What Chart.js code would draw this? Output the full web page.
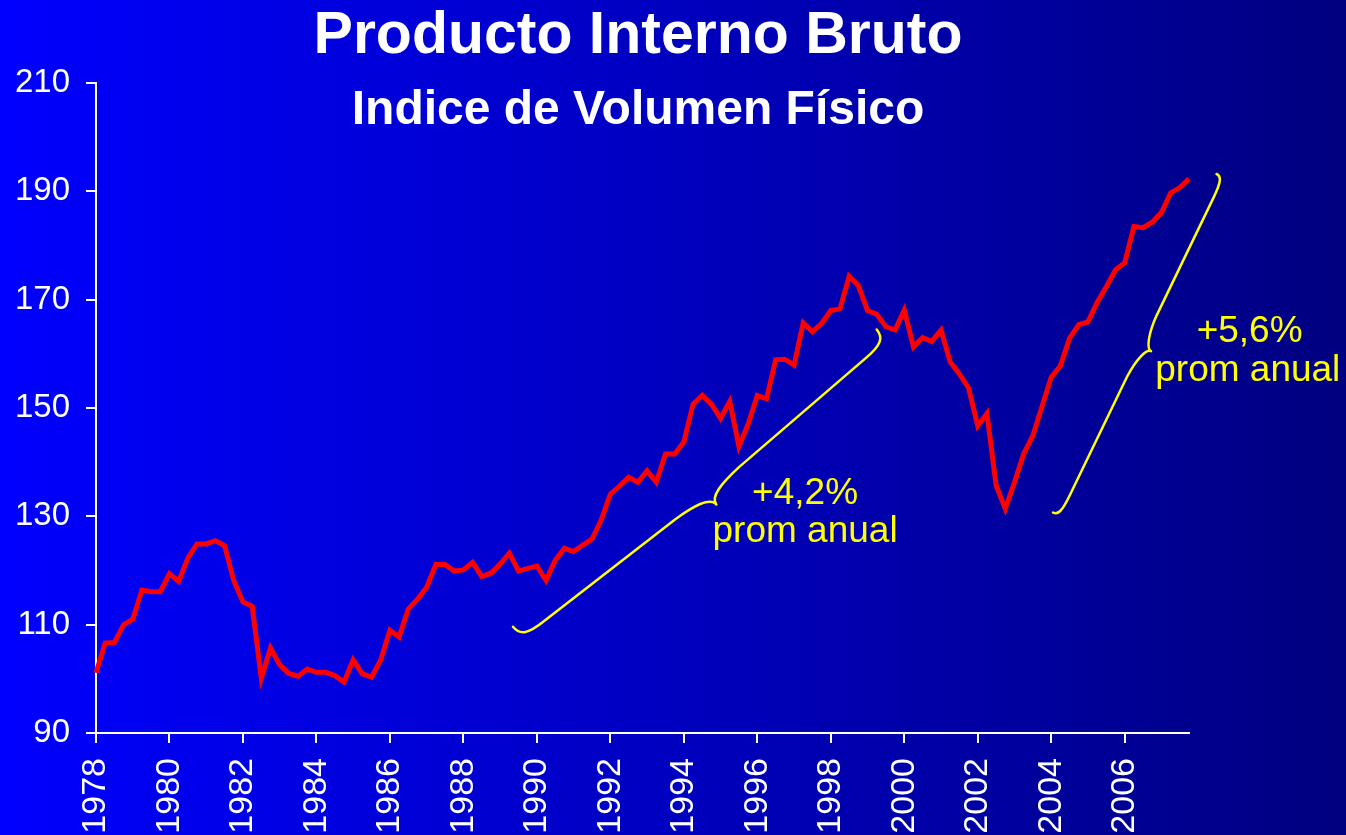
<!DOCTYPE html>
<html>
<head>
<meta charset="utf-8">
<script src="https://cdn.jsdelivr.net/npm/chart.js@4/dist/chart.umd.min.js"></script>
<style>
html,body{margin:0;padding:0;width:1346px;height:835px;overflow:hidden;background:linear-gradient(to right,#0000ff,#000080);}
#wrap{width:1346px;height:835px;position:relative;}
canvas{display:block;}
</style>
</head>
<body>
<div id="wrap"><canvas id="c" width="1346" height="835"></canvas></div>
<script>
// ---------- Data (quarterly, 1978-T1 .. 2007-T4) ----------
const firstYear = 1978;
const pib = [
  101.1, 106.6, 106.7, 110.0, 111.0, 116.4, 116.1, 116.1,
  119.4, 118.0, 122.3, 124.9, 124.9, 125.5, 124.6, 118.1,
  114.2, 113.4, 100.1, 105.7, 102.6, 101.0, 100.5, 101.8,
  101.2, 101.2, 100.6,  99.4, 103.5, 100.9, 100.3, 103.5,
  109.0, 107.7, 112.9, 114.7, 116.9, 121.1, 121.1, 119.9,
  120.1, 121.5, 118.9, 119.5, 121.2, 123.2, 119.9, 120.4,
  120.8, 118.2, 121.9, 124.1, 123.5, 124.7, 125.8, 129.3,
  134.1, 135.6, 137.2, 136.3, 138.4, 136.3, 141.5, 141.5,
  143.7, 150.7, 152.3, 150.7, 148.1, 151.2, 142.9, 147.0,
  152.3, 151.7, 158.9, 159.0, 157.9, 165.7, 164.1, 165.6,
  168.0, 168.3, 174.3, 172.6, 168.0, 167.3, 165.0, 164.4,
  168.1, 161.3, 163.0, 162.3, 164.4, 158.5, 156.3, 153.7,
  146.7, 149.0, 135.7, 131.4, 136.3, 141.5, 144.9, 150.3,
  155.7, 157.8, 162.9, 165.4, 165.9, 169.5, 172.4, 175.5,
  176.8, 183.5, 183.3, 184.3, 186.1, 189.7, 190.7, 192.3
];
const quarters = pib.map((_, i) => (firstYear + Math.floor(i / 4)) + '-T' + (i % 4 + 1));
const yTicks = [90, 110, 130, 150, 170, 190, 210];

const titleText = 'Producto Interno Bruto';
const subtitleText = 'Indice de Volumen Físico';

// annotation anchors in data space: [category index, value]
const braceFrom = [[45.4, 109.6], [104.2, 130.7]];
const braceTo   = [[85.0, 164.5], [122.0, 193.2]];
const noteTexts = ['+4,2%', 'prom anual', '+5,6%', 'prom anual'];
const noteAt    = [[77.2, 132.3], [77.2, 125.3], [125.6, 162.1], [125.4, 155.0]];

// ---------- Styles ----------
const FONT = "'Liberation Sans', Arial, Helvetica, sans-serif";
const braceWidth = [34, 18];
const braceArm = [[0.45, 0.57], [0.42, 0.42]];

function drawBrace(ctx, x1, y1, x2, y2, w, a1, a2) {
  const dx = x2 - x1, dy = y2 - y1, L = Math.hypot(dx, dy);
  const cx = dx / L, cy = dy / L;
  const P = (u, v) => [x1 + cx * u * L - cy * v * w, y1 + cy * u * L + cx * v * w];
  ctx.beginPath();
  ctx.moveTo(...P(0, 0));
  ctx.bezierCurveTo(...P(0, 0.3), ...P(0.012, a1), ...P(0.06, a1));
  ctx.lineTo(...P(0.41, a2));
  ctx.bezierCurveTo(...P(0.465, a2 + 0.04), ...P(0.5, 0.72), ...P(0.5, 1));
  ctx.bezierCurveTo(...P(0.5, 0.72), ...P(0.535, a2 + 0.04), ...P(0.59, a2));
  ctx.lineTo(...P(0.94, a1));
  ctx.bezierCurveTo(...P(0.988, a1), ...P(1, 0.3), ...P(1, 0));
  ctx.stroke();
}

const decor = {
  id: 'decor',
  beforeDraw(chart) {
    const ctx = chart.ctx;
    const g = ctx.createLinearGradient(0, 0, chart.width, 0);
    g.addColorStop(0, '#0000ff');
    g.addColorStop(1, '#000080');
    ctx.save();
    ctx.fillStyle = g;
    ctx.fillRect(0, 0, chart.width, chart.height);
    ctx.restore();
  },
  afterDraw(chart) {
    const ctx = chart.ctx;
    const xs = chart.scales.x, ys = chart.scales.y;
    ctx.save();
    // titles
    ctx.fillStyle = '#ffffff';
    ctx.textAlign = 'center';
    ctx.textBaseline = 'alphabetic';
    ctx.font = 'bold 59px ' + FONT;
    ctx.fillText(titleText, 638, 53);
    ctx.font = 'bold 48px ' + FONT;
    ctx.fillText(subtitleText, 638, 124);
    // braces
    ctx.strokeStyle = '#ffff00';
    ctx.lineWidth = 2.5;
    ctx.lineCap = 'round';
    ctx.lineJoin = 'round';
    for (let k = 0; k < braceFrom.length; k++) {
      const x1 = xs.getPixelForValue(braceFrom[k][0]), y1 = ys.getPixelForValue(braceFrom[k][1]);
      const x2 = xs.getPixelForValue(braceTo[k][0]), y2 = ys.getPixelForValue(braceTo[k][1]);
      drawBrace(ctx, x1, y1, x2, y2, braceWidth[k], braceArm[k][0], braceArm[k][1]);
    }
    // notes
    ctx.fillStyle = '#ffff00';
    ctx.font = '37px ' + FONT;
    for (let k = 0; k < noteTexts.length; k++) {
      ctx.fillText(noteTexts[k], xs.getPixelForValue(noteAt[k][0]), ys.getPixelForValue(noteAt[k][1]));
    }
    ctx.restore();
  }
};

new Chart(document.getElementById('c'), {
  type: 'line',
  data: {
    labels: quarters,
    datasets: [{
      data: pib,
      borderColor: '#ff0000',
      borderWidth: 5,
      pointRadius: 0,
      pointHoverRadius: 0,
      tension: 0,
      fill: false
    }]
  },
  options: {
    responsive: false,
    animation: false,
    devicePixelRatio: 1,
    layout: { padding: { top: 83, right: 157, bottom: 0, left: 0 } },
    plugins: { legend: { display: false }, tooltip: { enabled: false }, title: { display: false } },
    scales: {
      x: {
        type: 'category',
        offset: false,
        grid: { display: true, drawOnChartArea: false, drawTicks: true, tickLength: 10, color: '#ffffff', lineWidth: 2 },
        border: { display: true, color: '#ffffff', width: 2 },
        ticks: {
          autoSkip: false, minRotation: 90, maxRotation: 90, padding: 15,
          color: '#ffffff', font: { family: FONT, size: 34 },
          callback: (v, i) => (i % 8 === 0 ? quarters[i].slice(0, 4) : null)
        },
        afterFit: s => { s.height = 102; }
      },
      y: {
        min: yTicks[0], max: yTicks[yTicks.length - 1],
        grid: { display: true, drawOnChartArea: false, drawTicks: true, tickLength: 10, color: '#ffffff', lineWidth: 2 },
        border: { display: true, color: '#ffffff', width: 2 },
        ticks: { stepSize: 20, padding: 16, color: '#ffffff', font: { family: FONT, size: 33 } },
        afterBuildTicks: s => { s.ticks = yTicks.map(v => ({ value: v })); },
        afterFit: s => { s.width = 96; }
      }
    }
  },
  plugins: [decor]
});
</script>
</body>
</html>
